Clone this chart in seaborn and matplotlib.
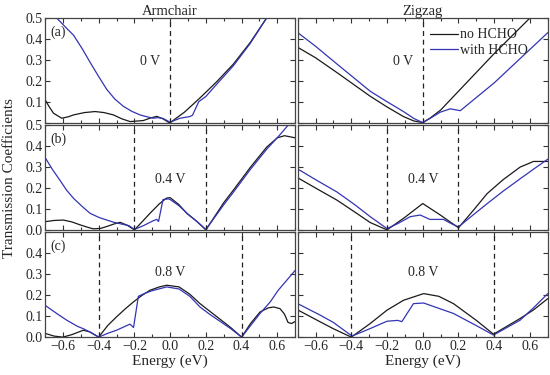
import matplotlib
matplotlib.use("Agg")
import matplotlib.pyplot as plt
import seaborn as sns
from matplotlib.ticker import MultipleLocator

# ---- (a) 0 V, armchair ----
arm_a_no_x = [-0.7, -0.68, -0.653, -0.607, -0.57, -0.54, -0.48, -0.42, -0.37, -0.318, -0.27, -0.224,
              -0.15, -0.11, -0.075, -0.04, -0.01, 0.0, 0.08, 0.167, 0.26, 0.354, 0.45, 0.54]
arm_a_no_y = [0.11, 0.08, 0.045, 0.021, 0.028, 0.037, 0.048, 0.053, 0.048, 0.037, 0.018, 0.005,
              0.01, 0.022, 0.03, 0.018, 0.002, 0.0, 0.05, 0.118, 0.195, 0.28, 0.385, 0.5]
arm_a_with_x = [-0.635, -0.59, -0.54, -0.49, -0.448, -0.40, -0.355, -0.31, -0.262, -0.215, -0.169,
                -0.13, -0.094, -0.07, -0.04, 0.0, 0.055, 0.11, 0.125, 0.16, 0.2, 0.26, 0.354, 0.447, 0.54]
arm_a_with_y = [0.5, 0.46, 0.417, 0.35, 0.288, 0.22, 0.159, 0.113, 0.078, 0.054, 0.037,
                0.028, 0.021, 0.024, 0.02, 0.002, 0.021, 0.029, 0.035, 0.10, 0.125, 0.183, 0.272, 0.377, 0.5]

# ---- (a) 0 V, zigzag ----
zig_a_no_x = [-0.7, -0.67, -0.6, -0.48, -0.294, -0.2, -0.108, -0.05, 0.0, 0.04, 0.1, 0.2, 0.3, 0.4, 0.5, 0.6]
zig_a_no_y = [0.36, 0.345, 0.31, 0.239, 0.126, 0.075, 0.029, 0.008, 0.0, 0.021, 0.06, 0.15, 0.24, 0.33, 0.415, 0.5]
zig_a_with_x = [-0.7, -0.6, -0.48, -0.294, -0.2, -0.108, -0.05, 0.0, 0.05, 0.098, 0.154, 0.21, 0.3, 0.4, 0.5, 0.6, 0.7]
zig_a_with_y = [0.43, 0.365, 0.28, 0.15, 0.1, 0.053, 0.02, 0.0, 0.025, 0.05, 0.066, 0.057, 0.12, 0.19, 0.27, 0.35, 0.43]

# ---- (b) 0.4 V, armchair ----
arm_b_no_x = [-0.7, -0.65, -0.598, -0.55, -0.504, -0.46, -0.43, -0.39, -0.355, -0.315, -0.28, -0.24, -0.2,
              -0.15, -0.113, -0.06, -0.02, 0.0, 0.05, 0.093, 0.15, 0.2, 0.3, 0.354, 0.45, 0.54, 0.6, 0.64, 0.7]
arm_b_no_y = [0.039, 0.045, 0.047, 0.038, 0.024, 0.012, 0.005, 0.007, 0.016, 0.028, 0.036, 0.022, 0.0,
              0.045, 0.079, 0.125, 0.152, 0.154, 0.12, 0.079, 0.04, 0.0, 0.13, 0.19, 0.3, 0.395, 0.44, 0.45, 0.44]
arm_b_with_x = [-0.7, -0.66, -0.616, -0.58, -0.54, -0.49, -0.448, -0.4, -0.355, -0.31, -0.262, -0.23, -0.2,
                -0.15, -0.094, -0.075, -0.065, -0.04, -0.01, 0.0, 0.05, 0.1, 0.15, 0.2, 0.3, 0.354, 0.45,
                0.54, 0.615, 0.66]
arm_b_with_y = [0.346, 0.29, 0.236, 0.19, 0.15, 0.11, 0.079, 0.06, 0.047, 0.035, 0.026, 0.02, 0.002,
                0.02, 0.044, 0.05, 0.04, 0.145, 0.148, 0.145, 0.115, 0.075, 0.04, 0.002, 0.12, 0.18, 0.29,
                0.385, 0.455, 0.5]

# ---- (b) 0.4 V, zigzag ----
zig_b_no_x = [-0.7, -0.6, -0.48, -0.38, -0.294, -0.2, -0.1, 0.0, 0.1, 0.2, 0.28, 0.36, 0.45, 0.545, 0.62, 0.7]
zig_b_no_y = [0.249, 0.2, 0.142, 0.085, 0.035, 0.0, 0.06, 0.126, 0.07, 0.01, 0.09, 0.173, 0.24, 0.3, 0.327, 0.327]
zig_b_with_x = [-0.7, -0.6, -0.48, -0.38, -0.294, -0.2, -0.14, -0.07, -0.014, 0.04, 0.116, 0.16, 0.2,
                0.28, 0.36, 0.45, 0.545, 0.62, 0.7]
zig_b_with_y = [0.291, 0.24, 0.181, 0.12, 0.063, 0.006, 0.03, 0.063, 0.071, 0.05, 0.05, 0.03, 0.014,
                0.07, 0.125, 0.185, 0.244, 0.29, 0.338]

# ---- (c) 0.8 V, armchair ----
arm_c_no_x = [-0.7, -0.65, -0.6, -0.55, -0.486, -0.45, -0.4, -0.35, -0.3, -0.25, -0.206, -0.16, -0.113,
              -0.06, -0.019, 0.05, 0.11, 0.167, 0.22, 0.28, 0.34, 0.4, 0.45, 0.503, 0.55, 0.58, 0.615,
              0.64, 0.66, 0.68, 0.7]
arm_c_no_y = [0.018, 0.005, 0.0, 0.012, 0.033, 0.025, 0.0, 0.055, 0.097, 0.136, 0.168, 0.198, 0.224,
              0.24, 0.248, 0.24, 0.205, 0.16, 0.125, 0.085, 0.045, 0.0, 0.065, 0.12, 0.14, 0.144, 0.136,
              0.11, 0.07, 0.065, 0.075]
arm_c_with_x = [-0.7, -0.63, -0.579, -0.52, -0.486, -0.45, -0.4, -0.35, -0.3, -0.225, -0.205, -0.178,
                -0.14, -0.1, -0.019, 0.05, 0.11, 0.167, 0.22, 0.28, 0.34, 0.4, 0.45, 0.503, 0.56, 0.605, 0.7]
arm_c_with_y = [0.152, 0.11, 0.081, 0.052, 0.04, 0.025, 0.0, 0.018, 0.033, 0.062, 0.046, 0.195,
                0.21, 0.222, 0.24, 0.23, 0.195, 0.144, 0.11, 0.075, 0.04, 0.0, 0.055, 0.113, 0.168, 0.224, 0.319]

# ---- (c) 0.8 V, zigzag ----
zig_c_no_x = [-0.7, -0.574, -0.5, -0.4, -0.294, -0.2, -0.108, 0.005, 0.09, 0.172, 0.3, 0.396, 0.545, 0.62, 0.7]
zig_c_no_y = [0.13, 0.073, 0.04, 0.0, 0.065, 0.129, 0.176, 0.208, 0.195, 0.16, 0.08, 0.014, 0.089, 0.13, 0.184]
zig_c_with_x = [-0.7, -0.574, -0.5, -0.396, -0.294, -0.2, -0.14, -0.117, -0.052, 0.005, 0.172, 0.3,
                0.396, 0.545, 0.62, 0.7]
zig_c_with_y = [0.16, 0.105, 0.07, 0.005, 0.041, 0.076, 0.08, 0.074, 0.16, 0.163, 0.113, 0.055,
                0.01, 0.081, 0.14, 0.208]

bias_labels = ["0 V", "0.4 V", "0.8 V"]
bias_lines = [[0.0], [-0.2, 0.2], [-0.4, 0.4]]
bias_text_pos = [(-0.11, 0.29), (0.0, 0.24), (0.0, 0.31)]
panel_letters = ["(a)", "(b)", "(c)"]
column_titles = ["Armchair", "Zigzag"]
series_names = ["no HCHO", "with HCHO"]

panels = [
    [((arm_a_no_x, arm_a_no_y), (arm_a_with_x, arm_a_with_y)),
     ((zig_a_no_x, zig_a_no_y), (zig_a_with_x, zig_a_with_y))],
    [((arm_b_no_x, arm_b_no_y), (arm_b_with_x, arm_b_with_y)),
     ((zig_b_no_x, zig_b_no_y), (zig_b_with_x, zig_b_with_y))],
    [((arm_c_no_x, arm_c_no_y), (arm_c_with_x, arm_c_with_y)),
     ((zig_c_no_x, zig_c_no_y), (zig_c_with_x, zig_c_with_y))],
]

sns.set_style("ticks")
plt.rcParams['font.family'] = ['Liberation Serif', 'DejaVu Serif']
plt.rcParams['font.size'] = 10

colors = ["#1a1a1a", "#3434b4"]
ytick_labels = [
    ["", "0.1", "0.2", "0.3", "0.4", "0.5"],
    ["0.0", "0.1", "0.2", "0.3", "0.4", "0.5"],
    ["0.0", "0.1", "0.2", "0.3", "0.4", ""],
]

fig, axes = plt.subplots(3, 2, figsize=(5.5, 3.75), dpi=100)
fig.subplots_adjust(left=0.082, right=0.996, top=0.952, bottom=0.101, wspace=0.01, hspace=0.025)

for r in range(3):
    for c in range(2):
        ax = axes[r, c]
        for k, (xs, ys) in enumerate(panels[r][c]):
            sns.lineplot(x=xs, y=ys, ax=ax, color=colors[k], lw=0.9, sort=False,
                         estimator=None, label=series_names[k])
        for xv in bias_lines[r]:
            ax.axvline(xv, color="#222222", lw=0.9, ls=(0, (4, 3)))
        tx, ty = bias_text_pos[r]
        ax.text(tx, ty, bias_labels[r], ha="center", va="center", fontsize=10)
        ax.set_xlim(-0.7, 0.7)
        ax.set_ylim(0, 0.5)
        ax.xaxis.set_major_locator(MultipleLocator(0.2))
        ax.xaxis.set_minor_locator(MultipleLocator(0.1))
        ax.set_yticks([0.0, 0.1, 0.2, 0.3, 0.4, 0.5])
        ax.tick_params(which="both", direction="in", top=True, right=True,
                       width=0.8, color="#333333", labelsize=10, pad=2)
        ax.tick_params(which="major", length=3.5)
        ax.tick_params(which="minor", length=2)
        for sp in ax.spines.values():
            sp.set_linewidth(0.9)
            sp.set_color("#444444")
        if c == 0:
            ax.set_yticklabels(ytick_labels[r])
            ax.text(0.02, 0.865, panel_letters[r], transform=ax.transAxes,
                    ha="left", va="center", fontsize=10)
        else:
            ax.set_yticklabels([])
        if r < 2:
            ax.set_xticklabels([])
        else:
            ax.set_xlabel("Energy (eV)", fontsize=11, labelpad=1)
        if r == 0:
            ax.set_title(column_titles[c], fontsize=10.5, pad=2)
        if r == 0 and c == 1:
            ax.legend(loc="upper right", bbox_to_anchor=(0.955, 0.98), frameon=False,
                      fontsize=10, handlelength=2.0, handletextpad=0.2,
                      labelspacing=0.15, borderaxespad=0.2)
        else:
            ax.get_legend().remove()

fig.text(0.018, 0.525, "Transmission Coefficients", rotation=90, ha="center",
         va="center", fontsize=11)

plt.savefig("out.png", dpi=100)
